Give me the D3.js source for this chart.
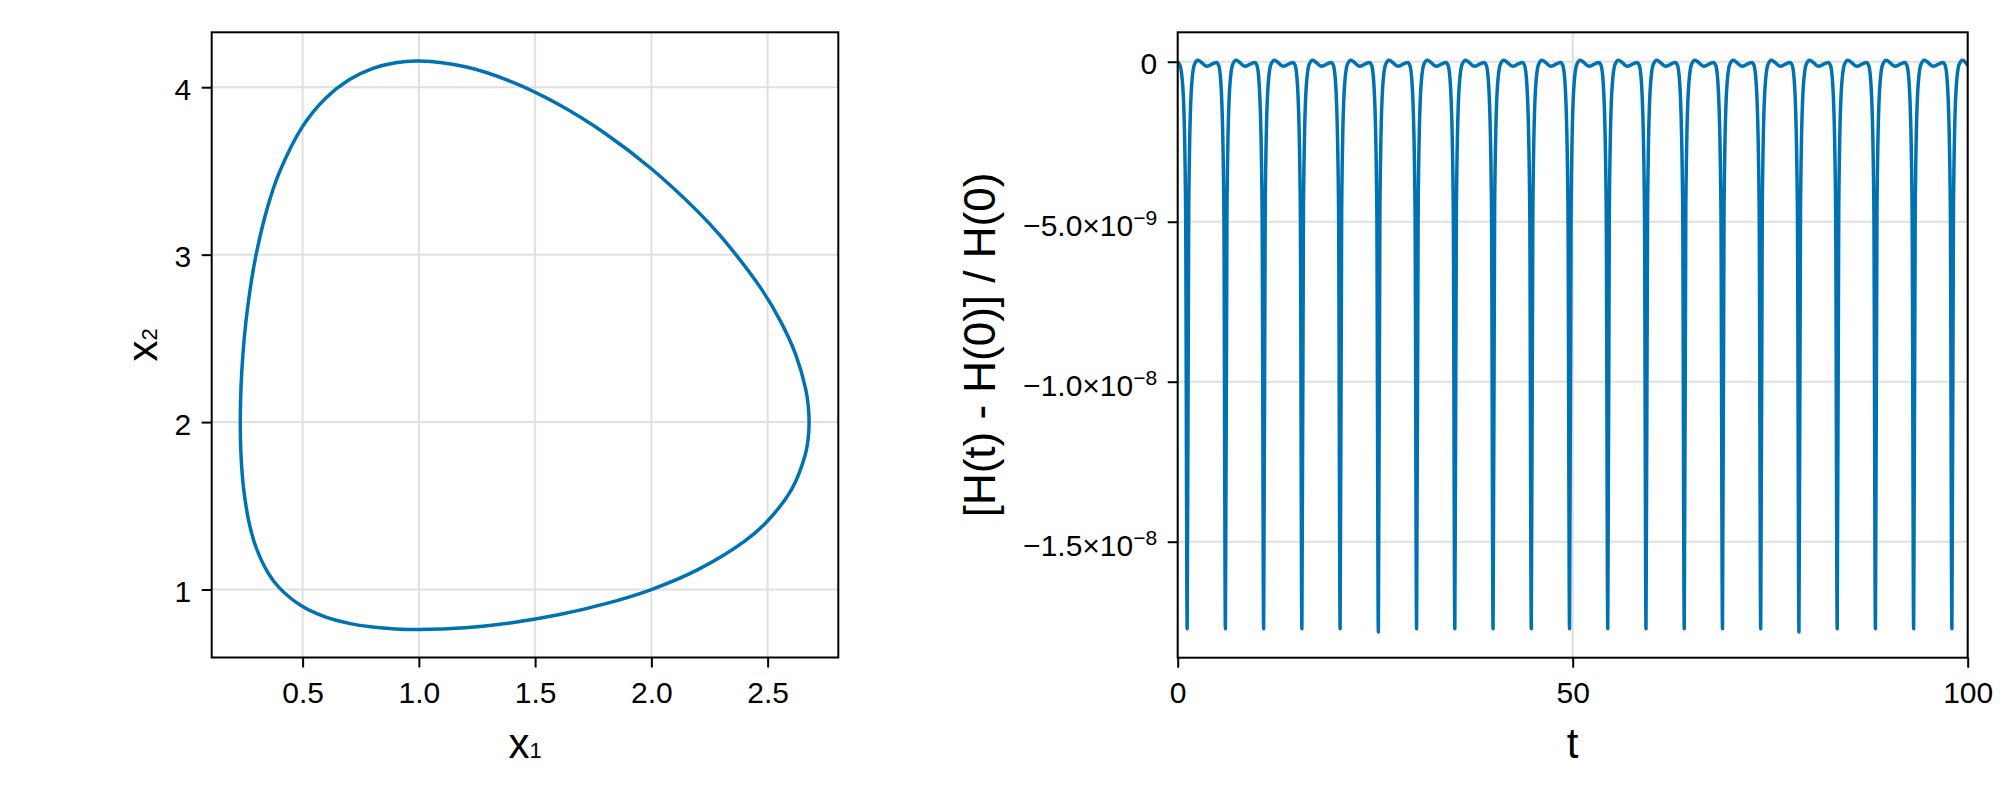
<!DOCTYPE html>
<html><head><meta charset="utf-8">
<script src="https://cdn.jsdelivr.net/npm/d3@7"></script>
<style>
body{margin:0;background:#fff}
svg text{font-family:"Liberation Sans", Arial, "DejaVu Sans", sans-serif;fill:#000}
</style>
</head><body>
<svg id="chart" width="2000" height="800"></svg>
<script>
// ---------------- data ----------------
// phase-space orbit (x1, x2)
const orbitX1 = [2.6784, 2.6745, 2.6633, 2.6216, 2.5565, 2.4706, 2.3, 2.2, 2.0, 1.8, 1.6, 1.4, 1.2, 1.0, 0.9, 0.8, 0.7, 0.6, 0.5, 0.4, 0.35, 0.3, 0.275, 0.2562, 0.243, 0.2348, 0.232, 0.2352, 0.2465, 0.2698, 0.3, 0.35, 0.4, 0.5, 0.6, 0.7, 0.8, 0.9, 1.0, 1.2, 1.4, 1.6, 1.8, 2.0, 2.2, 2.4, 2.4935, 2.6039, 2.661, 2.6742];
const orbitX2 = [2.0, 2.1, 2.2, 2.4, 2.6, 2.8, 3.107, 3.257, 3.513, 3.725, 3.898, 4.032, 4.122, 4.156, 4.146, 4.111, 4.045, 3.936, 3.766, 3.491, 3.287, 3.0, 2.8, 2.6, 2.4, 2.2, 2.0, 1.8, 1.6, 1.4, 1.251, 1.103, 1.010, 0.898, 0.835, 0.798, 0.776, 0.7645, 0.761, 0.772, 0.802, 0.849, 0.914, 1.0, 1.119, 1.288, 1.4, 1.6, 1.8, 1.9];
const leftXTicks = [0.5, 1.0, 1.5, 2.0, 2.5];
const leftYTicks = [1, 2, 3, 4];

// relative energy error vs time (values in units of 1e-9)
const timeValues = [
  0, 0.3, 0.7, 1.0,
  1.2, 1.4, 1.7, 2.1, 2.55, 3.7, 4.9, 5.2, 5.54, 5.84,
  6.04, 6.24, 6.54, 6.94, 7.39, 8.54, 9.74, 10.04, 10.38, 10.68,
  10.88, 11.08, 11.38, 11.78, 12.23, 13.38, 14.58, 14.88, 15.22, 15.52,
  15.72, 15.92, 16.22, 16.62, 17.07, 18.22, 19.42, 19.72, 20.06, 20.36,
  20.56, 20.76, 21.06, 21.46, 21.91, 23.06, 24.26, 24.56, 24.9, 25.2,
  25.4, 25.6, 25.9, 26.3, 26.75, 27.9, 29.1, 29.4, 29.74, 30.04,
  30.24, 30.44, 30.74, 31.14, 31.59, 32.74, 33.94, 34.24, 34.58, 34.88,
  35.08, 35.28, 35.58, 35.98, 36.43, 37.58, 38.78, 39.08, 39.42, 39.72,
  39.92, 40.12, 40.42, 40.82, 41.27, 42.42, 43.62, 43.92, 44.26, 44.56,
  44.76, 44.96, 45.26, 45.66, 46.11, 47.26, 48.46, 48.76, 49.1, 49.4,
  49.6, 49.8, 50.1, 50.5, 50.95, 52.1, 53.3, 53.6, 53.94, 54.24,
  54.44, 54.64, 54.94, 55.34, 55.79, 56.94, 58.14, 58.44, 58.78, 59.08,
  59.28, 59.48, 59.78, 60.18, 60.63, 61.78, 62.98, 63.28, 63.62, 63.92,
  64.12, 64.32, 64.62, 65.02, 65.47, 66.62, 67.82, 68.12, 68.46, 68.76,
  68.96, 69.16, 69.46, 69.86, 70.31, 71.46, 72.66, 72.96, 73.3, 73.6,
  73.8, 74.0, 74.3, 74.7, 75.15, 76.3, 77.5, 77.8, 78.14, 78.44,
  78.64, 78.84, 79.14, 79.54, 79.99, 81.14, 82.34, 82.64, 82.98, 83.28,
  83.48, 83.68, 83.98, 84.38, 84.83, 85.98, 87.18, 87.48, 87.82, 88.12,
  88.32, 88.52, 88.82, 89.22, 89.67, 90.82, 92.02, 92.32, 92.66, 92.96,
  93.16, 93.36, 93.66, 94.06, 94.51, 95.66, 96.86, 97.16, 97.5, 97.8,
  98.0, 98.2, 98.5, 98.9, 99.35, 100.0
];
const energyErrorE9 = [
  0, -0.12, -1.0, -4.5,
  -17.72, -4.5, -1.0, -0.1, 0.05, -0.14, -0.02, -0.12, -1.0, -4.5,
  -17.72, -4.5, -1.0, -0.1, 0.05, -0.14, -0.02, -0.12, -1.0, -4.5,
  -17.72, -4.5, -1.0, -0.1, 0.05, -0.14, -0.02, -0.12, -1.0, -4.5,
  -17.72, -4.5, -1.0, -0.1, 0.05, -0.14, -0.02, -0.12, -1.0, -4.5,
  -17.72, -4.5, -1.0, -0.1, 0.05, -0.14, -0.02, -0.12, -1.0, -4.5,
  -17.82, -4.5, -1.0, -0.1, 0.05, -0.14, -0.02, -0.12, -1.0, -4.5,
  -17.72, -4.5, -1.0, -0.1, 0.05, -0.14, -0.02, -0.12, -1.0, -4.5,
  -17.72, -4.5, -1.0, -0.1, 0.05, -0.14, -0.02, -0.12, -1.0, -4.5,
  -17.72, -4.5, -1.0, -0.1, 0.05, -0.14, -0.02, -0.12, -1.0, -4.5,
  -17.72, -4.5, -1.0, -0.1, 0.05, -0.14, -0.02, -0.12, -1.0, -4.5,
  -17.72, -4.5, -1.0, -0.1, 0.05, -0.14, -0.02, -0.12, -1.0, -4.5,
  -17.72, -4.5, -1.0, -0.1, 0.05, -0.14, -0.02, -0.12, -1.0, -4.5,
  -17.72, -4.5, -1.0, -0.1, 0.05, -0.14, -0.02, -0.12, -1.0, -4.5,
  -17.72, -4.5, -1.0, -0.1, 0.05, -0.14, -0.02, -0.12, -1.0, -4.5,
  -17.72, -4.5, -1.0, -0.1, 0.05, -0.14, -0.02, -0.12, -1.0, -4.5,
  -17.72, -4.5, -1.0, -0.1, 0.05, -0.14, -0.02, -0.12, -1.0, -4.5,
  -17.82, -4.5, -1.0, -0.1, 0.05, -0.14, -0.02, -0.12, -1.0, -4.5,
  -17.72, -4.5, -1.0, -0.1, 0.05, -0.14, -0.02, -0.12, -1.0, -4.5,
  -17.72, -4.5, -1.0, -0.1, 0.05, -0.14, -0.02, -0.12, -1.0, -4.5,
  -17.72, -4.5, -1.0, -0.1, 0.05, -0.14, -0.02, -0.12, -1.0, -4.5,
  -17.72, -4.5, -1.0, -0.1, 0.05, -0.12
];
const rightXTicks = [0, 50, 100];
const rightYTicks = [0, -5, -10, -15];
const rightYMantissa = ["0", "−5.0×10", "−1.0×10", "−1.5×10"];
const rightYExponent = ["", "−9", "−8", "−8"];

// ---------------- drawing ----------------
const LINE = "#0072b2";
const GRID = "#e0e0e0";
const TICK_FS = 30, LABEL_FS = 42;
const svg = d3.select("#chart");
svg.append("rect").attr("width", 2000).attr("height", 800).attr("fill", "#fff");

function drawPanel(p) {
  const g = svg.append("g");
  const [x0, x1] = p.xs.range(), [y1, y0] = p.ys.range();
  const clipId = "clip" + p.id;
  svg.append("clipPath").attr("id", clipId).append("rect")
    .attr("x", x0).attr("y", y0).attr("width", x1 - x0).attr("height", y1 - y0);

  // grid
  g.append("g").selectAll("line").data(p.xTicks).join("line")
    .attr("x1", d => p.xs(d)).attr("x2", d => p.xs(d)).attr("y1", y0).attr("y2", y1)
    .attr("stroke", GRID).attr("stroke-width", 2);
  g.append("g").selectAll("line").data(p.yTicks).join("line")
    .attr("y1", d => p.ys(d)).attr("y2", d => p.ys(d)).attr("x1", x0).attr("x2", x1)
    .attr("stroke", GRID).attr("stroke-width", 2);

  // data
  g.append("g").attr("clip-path", `url(#${clipId})`).append("path")
    .attr("d", p.path).attr("fill", "none").attr("stroke", LINE)
    .attr("stroke-width", 3.5).attr("stroke-linejoin", "round");

  // frame
  g.append("rect").attr("x", x0).attr("y", y0).attr("width", x1 - x0).attr("height", y1 - y0)
    .attr("fill", "none").attr("stroke", "#000").attr("stroke-width", 2);

  // axes
  const ax = g.append("g").attr("transform", `translate(0,${y1})`)
    .call(d3.axisBottom(p.xs).tickValues(p.xTicks).tickFormat(p.xFmt)
      .tickSize(10).tickPadding(14).tickSizeOuter(0));
  const ay = g.append("g").attr("transform", `translate(${x0},0)`)
    .call(d3.axisLeft(p.ys).tickValues(p.yTicks).tickFormat(p.yFmt)
      .tickSize(10).tickPadding(10.5).tickSizeOuter(0));
  [ax, ay].forEach(a => {
    a.attr("font-family", null).attr("font-size", null);
    a.select(".domain").remove();
    a.selectAll(".tick line").attr("stroke", "#000").attr("stroke-width", 2);
    a.selectAll(".tick text").attr("font-size", TICK_FS).attr("fill", "#000");
  });
  ay.selectAll(".tick text").attr("dy", "0.4em");
  if (p.yPost) p.yPost(ay);

  // axis labels
  const xl = g.append("text").attr("x", (x0 + x1) / 2).attr("y", 758)
    .attr("text-anchor", "middle").attr("font-size", LABEL_FS);
  p.xLabel(xl);
  const yl = g.append("text")
    .attr("transform", `translate(${p.yLabelX},${(y0 + y1) / 2}) rotate(-90)`)
    .attr("text-anchor", "middle").attr("font-size", p.yLabelFS || LABEL_FS);
  p.yLabel(yl);
}

// left panel: phase portrait
const xL = d3.scaleLinear().domain([0.109, 2.804]).range([211.7, 838.3]);
const yL = d3.scaleLinear().domain([0.594, 4.328]).range([657.5, 32.3]);
const orbitLine = d3.line().x(i => xL(orbitX1[i])).y(i => yL(orbitX2[i]))
  .curve(d3.curveCatmullRomClosed.alpha(0.5));
drawPanel({
  id: "L", xs: xL, ys: yL, xTicks: leftXTicks, yTicks: leftYTicks,
  xFmt: d3.format(".1f"), yFmt: d3.format("d"),
  path: orbitLine(d3.range(orbitX1.length)),
  yLabelX: 157,
  xLabel: t => { t.text("x"); t.append("tspan").attr("font-size", 22).text("1"); },
  yLabel: t => { t.text("x"); t.append("tspan").attr("font-size", 22).text("2"); }
});

// right panel: energy error
const xR = d3.scaleLinear().domain([0, 100]).range([1177.7, 1967.7]);
const yR = d3.scaleLinear().domain([-18.625, 0.92]).range([657.7, 32.3]);
const errLine = d3.line().x(i => xR(timeValues[i])).y(i => yR(energyErrorE9[i]))
  .curve(d3.curveMonotoneX);
drawPanel({
  id: "R", xs: xR, ys: yR, xTicks: rightXTicks, yTicks: rightYTicks,
  xFmt: d3.format("d"), yFmt: (d, i) => rightYMantissa[i],
  path: errLine(d3.range(timeValues.length)),
  yLabelX: 995, yLabelFS: 44,
  yPost: ay => {
    ay.selectAll(".tick text").each(function(d, i) {
      const t = d3.select(this);
      if (rightYExponent[i]) {
        t.attr("dy", "0.45em");
        t.append("tspan").attr("font-size", 21).attr("dy", -11).text(rightYExponent[i]);
      }
    });
  },
  xLabel: t => t.text("t"),
  yLabel: t => t.text("[H(t) - H(0)] / H(0)")
});
</script>
</body></html>
